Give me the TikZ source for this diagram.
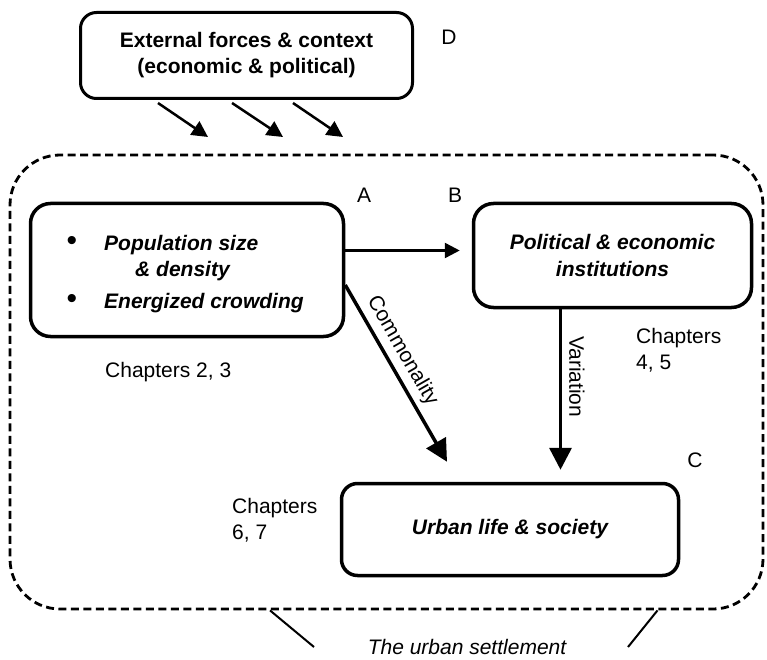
\documentclass[tikz,border=0pt]{standalone}
\usepackage{fontspec}
\setmainfont{Liberation Sans}
\usetikzlibrary{arrows.meta}
\begin{document}
\begin{tikzpicture}[x=1pt,y=-1pt,
  font=\fontsize{21}{26}\selectfont,
  box/.style={draw, line width=3.5pt, inner sep=0pt},
  lbl/.style={inner sep=0pt},
  bul/.style={inner sep=0pt, font=\fontsize{30}{30}\selectfont},
  btxt/.style={inner sep=0pt, anchor=base west, font=\fontsize{21}{26}\selectfont\bfseries\itshape},
  thinarrow/.style={line width=2.5pt, -{Triangle[length=16pt,width=16pt]}},
  bigarrow/.style={line width=3.5pt, -{Triangle[length=22pt,width=22pt]}},
  tick/.style={line width=2pt},
]
\useasboundingbox (0,0) rectangle (767,660);

% outer dashed settlement
\node[draw, dash pattern=on 8pt off 4.5pt, line width=2.8pt, rounded corners=50pt,
      minimum width=753pt, minimum height=454pt, inner sep=0pt] (U) at (386.5,382) {};

% D box
\node[box, line width=3pt, rounded corners=16pt, minimum width=332pt, minimum height=86pt,
      align=center, font=\fontsize{21}{26}\selectfont\bfseries] (D) at (246.5,55.5)
      {External forces \& context\\(economic \& political)};
\node[lbl] (Dl) at (449,37) {D};

% A box
\node[box, rounded corners=20pt, minimum width=313pt, minimum height=133pt] (A) at (187,270) {};
\node[bul] (b1) at (72,243) {\textbullet};
\node[bul] (b2) at (72,301) {\textbullet};
\node[btxt] (a1) at (104,250) {Population size};
\node[btxt] (a2) at (135,276) {\& density};
\node[btxt] (a3) at (104,308) {Energized crowding};
\node[lbl, anchor=base west] (ch23) at (105,377) {Chapters 2, 3};
\node[lbl] (Al) at (364,195) {A};

% B box
\node[box, rounded corners=20pt, minimum width=278pt, minimum height=104pt,
      align=center, font=\fontsize{21}{27}\selectfont\bfseries\itshape] (B) at (612.5,255.5)
      {Political \& economic\\institutions};
\node[lbl] (Bl) at (455,195) {B};
\node[lbl, align=left, anchor=west] (ch45) at (636,350) {Chapters\\4, 5};

% C box
\node[box, rounded corners=16pt, minimum width=337pt, minimum height=92pt,
      font=\fontsize{21}{26}\selectfont\bfseries\itshape] (C) at (510,529.5)
      {Urban life \& society};
\node[lbl] (Cl) at (695,460) {C};
\node[lbl, align=left, anchor=west] (ch67) at (232,520) {Chapters\\6, 7};

% settlement label
\node[lbl] (T) at (467,647) {\itshape The urban settlement};
\coordinate (t1) at (314,647);
\coordinate (t2) at (628,647);
\draw[tick] ([xshift=-116.5pt]U.south) -- (t1);
\draw[tick] ([xshift=271pt]U.south) -- (t2);

% external arrows
\coordinate (e1) at (208,137);
\coordinate (e2) at (283,137);
\coordinate (e3) at (343,137);
\draw[thinarrow] ([xshift=-88.5pt,yshift=-3pt]D.south) -- (e1);
\draw[thinarrow] ([xshift=-14.5pt,yshift=-3pt]D.south) -- (e2);
\draw[thinarrow] ([xshift=46.5pt,yshift=-3pt]D.south) -- (e3);

% A -> B
\draw[line width=2.5pt, -{Triangle[length=15pt,width=15pt]}]
  ([yshift=5pt]A.east |- B.west) -- ([yshift=5pt,xshift=-12pt]B.west);

% A -> C (Commonality)
\draw[bigarrow] ([yshift=-15pt]A.east) -- node[pos=0.42, sloped, above, inner sep=5pt] (cm) {Commonality}
  ([xshift=-63pt,yshift=20pt]C.north);

% B -> C (Variation)
\coordinate (vtop) at ([xshift=-52pt]B.south);
\draw[bigarrow] (vtop) -- node[pos=0.42, sloped, above, inner sep=7pt] (vr) {Variation}
  ([yshift=12pt]vtop |- C.north);
\end{tikzpicture}
\end{document}
